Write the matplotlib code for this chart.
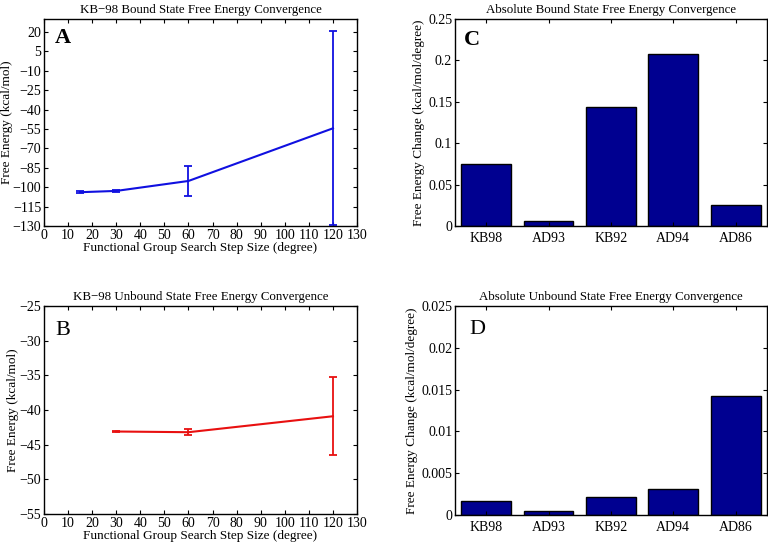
import matplotlib
matplotlib.use("Agg")
import matplotlib.pyplot as plt
import numpy as np

# panel A / B: convergence vs search step size
bound_steps = [15, 30, 60, 120]
bound_energy = [-103.9, -102.9, -95.2, -54.5]
bound_err = [0.6, 0.6, 11.5, 75.0]

unbound_steps = [30, 60, 120]
unbound_energy = [-43.1, -43.2, -40.9]
unbound_err = [0.1, 0.45, 5.65]

# panel C / D: absolute free energy change per degree
systems = ["KB98", "AD93", "KB92", "AD94", "AD86"]
bound_change = [0.0753, 0.0060, 0.1433, 0.2077, 0.0250]
unbound_change = [0.00168, 0.00052, 0.00216, 0.00307, 0.01422]

plt.rcParams['font.family'] = ['Liberation Serif', 'DejaVu Serif']
plt.rcParams['mathtext.fontset'] = 'stix'

BAR_COLOR = '#000090'
TICK_FS = 10
LABEL_FS = 9.5
TITLE_FS = 9.3


def style_axes(ax):
    ax.tick_params(direction='in', top=True, right=True, labelsize=TICK_FS,
                   length=3, width=0.8, pad=2)
    for sp in ax.spines.values():
        sp.set_linewidth(1.0)


fig = plt.figure(figsize=(7.68, 5.44), dpi=100)

axA = fig.add_axes([0.0573, 0.5846, 0.4076, 0.3805])
axB = fig.add_axes([0.0573, 0.0551, 0.4076, 0.3824])
axC = fig.add_axes([0.5924, 0.5846, 0.4060, 0.3805])
axD = fig.add_axes([0.5924, 0.0533, 0.4060, 0.3842])

# A
axA.errorbar(bound_steps, bound_energy, yerr=bound_err, color='#1010e0',
             lw=1.5, elinewidth=1.3, capsize=3, capthick=1.3)
axA.set_xlim(0, 130)
axA.set_ylim(-130, 30)
axA.set_xticks(np.arange(0, 131, 10))
axA.set_yticks(np.arange(-130, 21, 15))
axA.set_xlabel("Functional Group Search Step Size (degree)", fontsize=LABEL_FS, labelpad=0)
axA.set_ylabel("Free Energy (kcal/mol)", fontsize=LABEL_FS, labelpad=0)
axA.set_title("KB\u221298 Bound State Free Energy Convergence", fontsize=TITLE_FS, pad=4)
axA.text(0.035, 0.955, "A", transform=axA.transAxes, fontsize=16,
         fontweight='bold', ha='left', va='top')
style_axes(axA)

# B
axB.errorbar(unbound_steps, unbound_energy, yerr=unbound_err, color='#e81010',
             lw=1.5, elinewidth=1.3, capsize=3, capthick=1.3)
axB.set_xlim(0, 130)
axB.set_ylim(-55, -25)
axB.set_xticks(np.arange(0, 131, 10))
axB.set_yticks(np.arange(-55, -24, 5))
axB.set_xlabel("Functional Group Search Step Size (degree)", fontsize=LABEL_FS, labelpad=0)
axB.set_ylabel("Free Energy (kcal/mol)", fontsize=LABEL_FS, labelpad=0)
axB.set_title("KB\u221298 Unbound State Free Energy Convergence", fontsize=TITLE_FS, pad=4)
axB.text(0.035, 0.93, "B", transform=axB.transAxes, fontsize=16,
         ha='left', va='top')
style_axes(axB)

# C
xpos = np.arange(1, len(systems) + 1)
axC.bar(xpos, bound_change, width=0.8, color=BAR_COLOR, edgecolor='black', linewidth=1.0)
axC.set_xlim(0.5, 5.5)
axC.set_ylim(0, 0.25)
axC.set_xticks(xpos)
axC.set_xticklabels(systems)
axC.set_yticks([0, 0.05, 0.1, 0.15, 0.2, 0.25])
axC.set_yticklabels(["0", "0.05", "0.1", "0.15", "0.2", "0.25"])
axC.set_ylabel("Free Energy Change (kcal/mol/degree)", fontsize=LABEL_FS, labelpad=2)
axC.set_title("Absolute Bound State Free Energy Convergence", fontsize=TITLE_FS, pad=4)
axC.text(0.03, 0.945, "C", transform=axC.transAxes, fontsize=16,
         fontweight='bold', ha='left', va='top')
style_axes(axC)
axC.tick_params(axis='x', pad=4)

# D
axD.bar(xpos, unbound_change, width=0.8, color=BAR_COLOR, edgecolor='black', linewidth=1.0)
axD.set_xlim(0.5, 5.5)
axD.set_ylim(0, 0.025)
axD.set_xticks(xpos)
axD.set_xticklabels(systems)
axD.set_yticks([0, 0.005, 0.01, 0.015, 0.02, 0.025])
axD.set_yticklabels(["0", "0.005", "0.01", "0.015", "0.02", "0.025"])
axD.set_ylabel("Free Energy Change (kcal/mol/degree)", fontsize=LABEL_FS, labelpad=2)
axD.set_title("Absolute Unbound State Free Energy Convergence", fontsize=TITLE_FS, pad=4)
axD.text(0.045, 0.935, "D", transform=axD.transAxes, fontsize=16,
         ha='left', va='top')
style_axes(axD)
axD.tick_params(axis='x', pad=4)

fig.savefig("out.png", dpi=100)
